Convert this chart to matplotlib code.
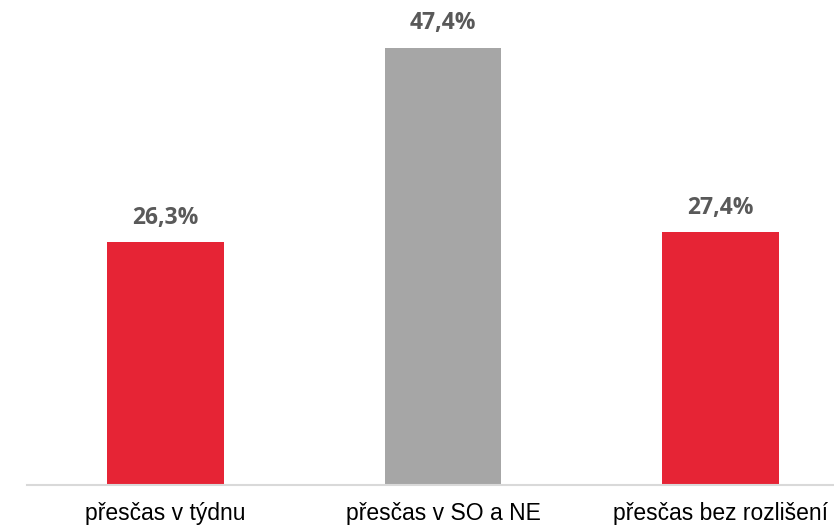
import matplotlib.pyplot as plt

# data
categories = ['přesčas v týdnu', 'přesčas v SO a NE', 'přesčas bez rozlišení']
values = [26.3, 47.4, 27.4]
labels = ['26,3%', '47,4%', '27,4%']
colors = ['#e62435', '#a6a6a6', '#e62435']

fig = plt.figure(figsize=(8.34, 5.28), dpi=100)
ax = fig.add_axes([27 / 834, 43 / 528, 807 / 834, 485 / 528])

x = range(len(categories))
bars = ax.bar(x, values, width=0.42, color=colors, zorder=2)

for b, lab in zip(bars, labels):
    ax.annotate(lab, (b.get_x() + b.get_width() / 2, b.get_height()),
                xytext=(0, 9), textcoords='offset points',
                ha='center', va='bottom', fontsize=16.5, fontweight='bold',
                color='#595959', family='Open Sans')

ax.set_xlim(-0.499, 2.409)
ax.set_ylim(0, 52.6)

ax.set_xticks(list(x))
ax.set_xticklabels(categories, fontsize=16.5, family='Liberation Sans', color='black')
ax.tick_params(axis='x', length=0, pad=12)
ax.set_yticks([])

for s in ['top', 'right', 'left']:
    ax.spines[s].set_visible(False)
ax.spines['bottom'].set_color('#d9d9d9')
ax.spines['bottom'].set_linewidth(1.5)

fig.savefig('out.png', dpi=100)
